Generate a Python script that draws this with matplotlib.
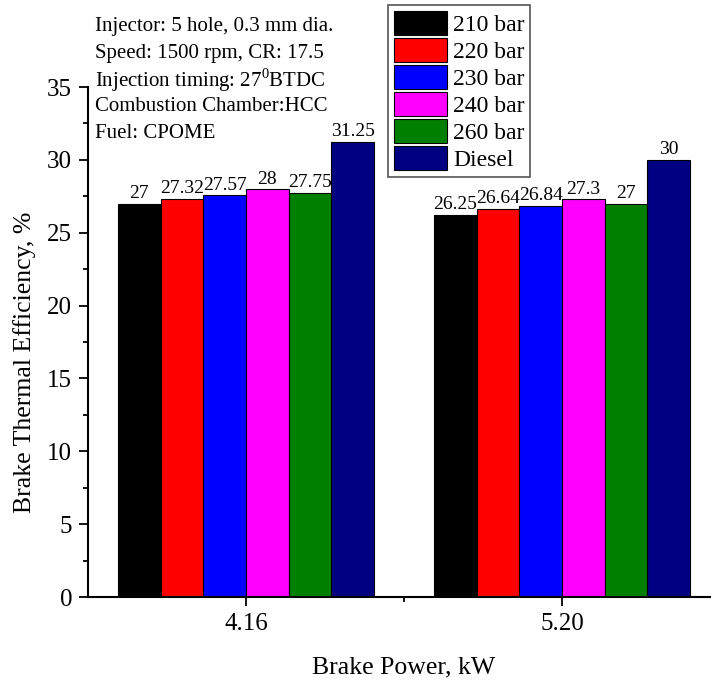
import matplotlib
matplotlib.use("Agg")
import matplotlib.pyplot as plt
import numpy as np
from matplotlib.ticker import MultipleLocator

plt.rcParams["font.family"] = ["Liberation Serif", "DejaVu Serif"]
plt.rcParams["mathtext.fontset"] = "custom"
plt.rcParams["mathtext.rm"] = "Liberation Serif"

categories = ["4.16", "5.20"]
series_names = ["210 bar", "220 bar", "230 bar", "240 bar", "260 bar", "Diesel"]
series_colors = ["#000000", "#ff0000", "#0000ff", "#ff00ff", "#008000", "#000080"]
values = [
    [27, 26.25],
    [27.32, 26.64],
    [27.57, 26.84],
    [28, 27.3],
    [27.75, 27],
    [31.25, 30],
]
value_labels = [
    ["27", "26.25"],
    ["27.32", "26.64"],
    ["27.57", "26.84"],
    ["28", "27.3"],
    ["27.75", "27"],
    ["31.25", "30"],
]
notes = [
    "Injector: 5 hole, 0.3 mm dia.",
    "Speed: 1500 rpm, CR: 17.5",
    "Injection timing: 27$^0$BTDC",
    "Combustion Chamber:HCC",
    "Fuel: CPOME",
]

W, H = 711, 681
fig = plt.figure(figsize=(W / 100, H / 100), dpi=100)
ax = fig.add_axes([88 / W, 1 - 597 / H, (720 - 88) / W, (597 - 87) / H])

x = np.arange(1, len(categories) + 1)
bw = 0.135
n = len(series_names)
for i, (name, col) in enumerate(zip(series_names, series_colors)):
    pos = x + (i - (n - 1) / 2) * bw
    ax.bar(pos, values[i], width=bw, color=col, edgecolor="black",
           linewidth=0.8, label=name)
    for xp, v, lab in zip(pos, values[i], value_labels[i]):
        ax.text(xp, v + 0.1, lab, ha="center", va="bottom", fontsize=14)

ax.set_xlim(0.5, 2.5)
ax.set_ylim(0, 35)
ax.set_xticks(x)
ax.set_xticklabels(categories)
ax.set_xticks([1.5], minor=True)
ax.yaxis.set_major_locator(MultipleLocator(5))
ax.yaxis.set_minor_locator(MultipleLocator(2.5))
ax.tick_params(axis="both", which="major", direction="out", length=6.5,
               width=1.3, labelsize=18)
ax.tick_params(axis="both", which="minor", direction="out", length=3.5, width=1.3)
ax.tick_params(axis="x", which="major", pad=5)
ax.tick_params(axis="y", which="major", pad=5)
for s in ["top", "right"]:
    ax.spines[s].set_visible(False)
for s in ["left", "bottom"]:
    ax.spines[s].set_linewidth(1.5)

fig.text(25 / W, 1 - 362 / H, "Brake Thermal Efficiency, %", rotation=90,
         ha="center", va="center", fontsize=18.5)
fig.text(404 / W, 1 - 667 / H, "Brake Power, kW", ha="center", va="center",
         fontsize=18.5)

for k, line in enumerate(notes):
    fig.text(95 / W, 1 - (27 + k * 26.6) / H, line, ha="left", va="center",
             fontsize=15)

leg = fig.legend(loc="upper left", bbox_to_anchor=(388 / W, 1 - 5 / H),
                 fontsize=17, handlelength=2.25, handleheight=1.2,
                 labelspacing=0.08, handletextpad=0.25, borderpad=0.25,
                 borderaxespad=0, fancybox=False, framealpha=1)
leg.get_frame().set_edgecolor("#555555")
leg.get_frame().set_linewidth(1.2)

fig.savefig("out.png", dpi=100)
